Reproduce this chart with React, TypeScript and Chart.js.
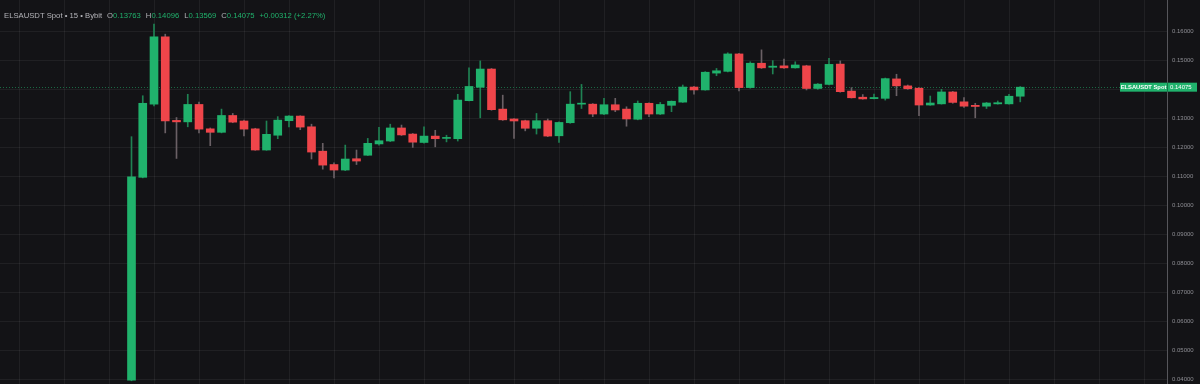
import React, { useEffect, useRef } from 'react';
import { Chart, registerables } from 'chart.js';

Chart.register(...registerables);

const symbolName = 'ELSAUSDT Spot';
const intervalName = '15';
const exchangeName = 'Bybit';

const opens = [
  0.0398, 0.1097, 0.1349, 0.1581, 0.1293, 0.1288, 0.1348, 0.1264, 0.1252, 0.1310,
  0.1291, 0.1264, 0.1191, 0.1242, 0.1292, 0.1308, 0.1271, 0.1187, 0.1141, 0.1122,
  0.1161, 0.1173, 0.1212, 0.1222, 0.1267, 0.1246, 0.1217, 0.1239, 0.1231, 0.1230,
  0.1361, 0.1407, 0.1470, 0.1332, 0.1298, 0.1292, 0.1266, 0.1292, 0.1240, 0.1285,
  0.1349, 0.1349, 0.1315, 0.1347, 0.1332, 0.1297, 0.1352, 0.1315, 0.1345, 0.1356,
  0.1408, 0.1398, 0.1456, 0.1462, 0.1522, 0.1406, 0.1490, 0.1476, 0.1481, 0.1474,
  0.1481, 0.1403, 0.1417, 0.1487, 0.1394, 0.1373, 0.1368, 0.1369, 0.1436, 0.1412,
  0.1404, 0.1346, 0.1350, 0.1391, 0.1357, 0.1345, 0.1342, 0.1350, 0.1350, 0.13763,
];
const highs = [
  0.1237, 0.1378, 0.1625, 0.1590, 0.1303, 0.1383, 0.1356, 0.1267, 0.1332, 0.1317,
  0.1294, 0.1266, 0.1291, 0.1306, 0.1310, 0.1309, 0.1280, 0.1214, 0.1147, 0.1208,
  0.1191, 0.1231, 0.1269, 0.1280, 0.1277, 0.1248, 0.1271, 0.1259, 0.1242, 0.1383,
  0.1474, 0.1498, 0.1472, 0.1380, 0.1299, 0.1294, 0.1317, 0.1298, 0.1288, 0.1392,
  0.1417, 0.1351, 0.1369, 0.1369, 0.1340, 0.1360, 0.1354, 0.1355, 0.1360, 0.1415,
  0.1410, 0.1461, 0.1472, 0.1526, 0.1524, 0.1495, 0.1536, 0.1499, 0.1504, 0.1495,
  0.1483, 0.1420, 0.1507, 0.1498, 0.1406, 0.1382, 0.1384, 0.1439, 0.1452, 0.1415,
  0.1406, 0.1377, 0.1400, 0.1393, 0.1372, 0.1352, 0.1355, 0.1360, 0.1383, 0.14096,
];
const lows = [
  0.0396, 0.1095, 0.1343, 0.1250, 0.1162, 0.1271, 0.1250, 0.1206, 0.1250, 0.1285,
  0.1240, 0.1190, 0.1190, 0.1230, 0.1271, 0.1261, 0.1160, 0.1125, 0.1095, 0.1120,
  0.1141, 0.1172, 0.1208, 0.1220, 0.1241, 0.1200, 0.1215, 0.1202, 0.1219, 0.1222,
  0.1360, 0.1302, 0.1328, 0.1293, 0.1231, 0.1257, 0.1246, 0.1237, 0.1217, 0.1283,
  0.1334, 0.1306, 0.1313, 0.1323, 0.1273, 0.1295, 0.1306, 0.1313, 0.1323, 0.1355,
  0.1383, 0.1397, 0.1447, 0.1460, 0.1395, 0.1404, 0.1472, 0.1453, 0.1472, 0.1473,
  0.1398, 0.1400, 0.1415, 0.1390, 0.1370, 0.1366, 0.1367, 0.1363, 0.1378, 0.1400,
  0.1309, 0.1345, 0.1349, 0.1352, 0.1338, 0.1302, 0.1334, 0.1349, 0.1349, 0.13569,
];
const closes = [
  0.1099, 0.1352, 0.1581, 0.1291, 0.1288, 0.1348, 0.1263, 0.1252, 0.1310, 0.1287,
  0.1263, 0.1191, 0.1245, 0.1294, 0.1308, 0.1270, 0.1184, 0.1139, 0.1122, 0.1160,
  0.1153, 0.1214, 0.1223, 0.1267, 0.1243, 0.1218, 0.1239, 0.1230, 0.1232, 0.1363,
  0.1410, 0.1470, 0.1330, 0.1295, 0.1291, 0.1266, 0.1292, 0.1239, 0.1286, 0.1349,
  0.1350, 0.1315, 0.1347, 0.1329, 0.1298, 0.1352, 0.1315, 0.1348, 0.1359, 0.1408,
  0.1398, 0.1459, 0.1464, 0.1522, 0.1406, 0.1490, 0.1474, 0.1480, 0.1474, 0.1484,
  0.1403, 0.1418, 0.1486, 0.1392, 0.1371, 0.1367, 0.1372, 0.1437, 0.1412, 0.1402,
  0.1346, 0.1353, 0.1391, 0.1355, 0.1342, 0.1341, 0.1353, 0.1354, 0.13763, 0.14075,
];

const priceTicks = [0.04, 0.05, 0.06, 0.07, 0.08, 0.09, 0.1, 0.11, 0.12, 0.13, 0.14, 0.15, 0.16];
const timeGridIdx = [-8, -4, 0, 4, 8, 12, 16, 20, 24, 28, 32, 36, 40, 44, 48, 52, 56, 60, 64, 68, 72, 76, 80, 84, 88];

const UP = '#20b26c';
const DOWN = '#ef454a';
const UP_WICK = '#1f8253';
const DOWN_WICK = '#6a6065';
const BG = '#131316';
const GRID = 'rgba(255,255,255,0.06)';
const TEXT_GRAY = '#b4b4b9';
const AXIS_TEXT = '#8e8e94';
const FONT = "'Liberation Sans', Arial, sans-serif";

export default function App() {
  const ref = useRef<HTMLCanvasElement>(null);

  useEffect(() => {
    if (!ref.current) return;
    const idx = closes.map((_, i) => i);
    const up = idx.map((i) => closes[i] >= opens[i]);
    const last = closes.length - 1;
    const lastClose = closes[last];
    const prevClose = closes[last - 1];
    const chg = lastClose - prevClose;
    const pct = (chg / prevClose) * 100;

    const overlay = {
      id: 'overlay',
      beforeDatasetsDraw(chart: any) {
        const { ctx, chartArea, scales } = chart;
        const py = Math.round(scales.y.getPixelForValue(lastClose)) + 0.5;
        ctx.save();
        ctx.strokeStyle = 'rgba(32,178,108,0.55)';
        ctx.lineWidth = 1;
        ctx.setLineDash([1, 2]);
        ctx.beginPath();
        ctx.moveTo(chartArea.left, py);
        ctx.lineTo(chartArea.right - 47, py);
        ctx.stroke();
        ctx.restore();
      },
      afterDraw(chart: any) {
        const { ctx, chartArea, scales } = chart;
        const py = scales.y.getPixelForValue(lastClose);
        ctx.save();
        // price label
        const h = 9;
        ctx.fillStyle = UP;
        ctx.fillRect(chartArea.right - 47, py - h / 2, 77, h);
        ctx.fillStyle = 'rgba(0,0,0,0.35)';
        ctx.fillRect(chartArea.right, py - h / 2, 1, h);
        ctx.fillStyle = '#ffffff';
        ctx.textBaseline = 'middle';
        ctx.font = `bold 5.8px ${FONT}`;
        ctx.textAlign = 'center';
        ctx.fillText(symbolName, chartArea.right - 23.5, py + 0.3);
        ctx.textAlign = 'left';
        ctx.font = `6px ${FONT}`;
        ctx.fillText(lastClose.toFixed(5), chartArea.right + 3, py + 0.3);

        // title
        ctx.textBaseline = 'alphabetic';
        ctx.font = `7.7px ${FONT}`;
        const by = 17.6;
        let x = 4;
        const head = `${symbolName} • ${intervalName} • ${exchangeName}`;
        ctx.fillStyle = TEXT_GRAY;
        ctx.fillText(head, x, by);
        x += ctx.measureText(head).width + 5;
        const parts: [string, string][] = [
          ['O', opens[last].toFixed(5)],
          ['H', highs[last].toFixed(5)],
          ['L', lows[last].toFixed(5)],
          ['C', lastClose.toFixed(5)],
        ];
        for (const [k, v] of parts) {
          ctx.fillStyle = TEXT_GRAY;
          ctx.fillText(k, x, by);
          x += ctx.measureText(k).width;
          ctx.fillStyle = UP;
          ctx.fillText(v, x, by);
          x += ctx.measureText(v).width + 5;
        }
        const sign = chg >= 0 ? '+' : '-';
        ctx.fillStyle = UP;
        ctx.fillText(`${sign}${Math.abs(chg).toFixed(5)} (${sign}${Math.abs(pct).toFixed(2)}%)`, x, by);
        ctx.restore();
      },
    };

    const chart = new Chart(ref.current, {
      type: 'bar',
      data: {
        datasets: [
          {
            label: 'body',
            data: idx.map((i) => ({ x: i, y: [opens[i], closes[i]] })) as any,
            backgroundColor: up.map((u) => (u ? UP : DOWN)),
            borderWidth: 0,
            barThickness: 8,
            minBarLength: 1,
            grouped: false,
            order: 0,
          },
          {
            label: 'wick',
            data: idx.map((i) => ({ x: i, y: [lows[i], highs[i]] })) as any,
            backgroundColor: up.map((u) => (u ? UP_WICK : DOWN_WICK)),
            borderWidth: 0,
            barThickness: 1,
            grouped: false,
            order: 1,
          },
        ],
      },
      options: {
        animation: false,
        responsive: false,
        maintainAspectRatio: false,
        layout: { padding: 0 },
        plugins: { legend: { display: false }, tooltip: { enabled: false } },
        scales: {
          x: {
            type: 'linear',
            min: -11.689,
            max: 92.044,
            offset: false,
            afterBuildTicks: (s: any) => {
              s.ticks = timeGridIdx.map((v) => ({ value: v }));
            },
            ticks: { display: false },
            grid: { color: GRID, drawTicks: false },
            border: { display: false },
          },
          y: {
            position: 'right',
            min: 0.0385,
            max: 0.17078,
            afterBuildTicks: (s: any) => {
              s.ticks = priceTicks.map((v) => ({ value: v }));
            },
            afterFit: (s: any) => {
              s.width = 33;
              s.paddingTop = 0;
              s.paddingBottom = 0;
            },
            ticks: {
              color: AXIS_TEXT,
              font: { family: FONT, size: 6 },
              padding: 5,
              callback: (v: any) => Number(v).toFixed(5),
            },
            grid: { color: GRID, drawTicks: false },
            border: { display: true, color: '#56565b' },
          },
        },
      },
      plugins: [overlay],
    });
    return () => chart.destroy();
  }, []);

  return (
    <div style={{ position: 'fixed', left: 0, top: 0, width: 1200, height: 384, background: BG }}>
      <canvas ref={ref} width={1200} height={384} style={{ display: 'block' }} />
    </div>
  );
}
